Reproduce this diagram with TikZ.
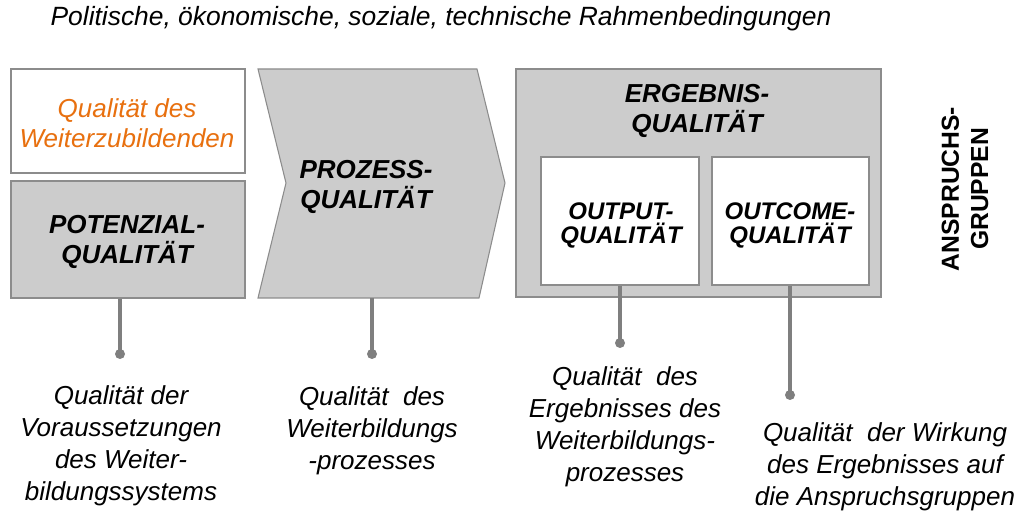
\documentclass[tikz,border=0pt]{standalone}
\usepackage{fontspec}
\setmainfont{Liberation Sans}
\definecolor{boxgrey}{HTML}{CCCCCC}
\definecolor{edgegrey}{HTML}{8C8C8C}
\definecolor{linegrey}{HTML}{7F7F7F}
\definecolor{qorange}{HTML}{E8700F}
\begin{document}
\begin{tikzpicture}[x=0.75pt,y=-0.75pt,
  lbl/.style={font=\fontsize{19.5}{24}\selectfont\itshape, align=center, inner sep=0pt},
  bigbold/.style={font=\fontsize{19.5}{22.5}\selectfont\bfseries\itshape, align=center, inner sep=0pt},
  smallbold/.style={font=\fontsize{18}{18}\selectfont\bfseries\itshape, align=center, inner sep=0pt},
  greybox/.style={draw=edgegrey, fill=boxgrey, line width=0.8pt, inner sep=0pt},
  whitebox/.style={draw=edgegrey, fill=white, line width=0.8pt, inner sep=0pt},
  conn/.style={draw=linegrey, line width=2.4pt},
  dot/.style={circle, fill=linegrey, inner sep=0pt, minimum size=7.5pt}]
\useasboundingbox (0,0) rectangle (1024,523);
% top heading
\node[lbl, font=\fontsize{19.8}{24}\selectfont\itshape] (top) at (441,19) {Politische, ökonomische, soziale, technische Rahmenbedingungen};
% left column
\node[whitebox, minimum width=234*0.75pt, minimum height=104*0.75pt] (wbox) at (128,121) {};
\node[lbl, text=qorange, font=\fontsize{19.5}{22.5}\selectfont\itshape] (wtxt) at (127,123) {Qualität des\\Weiterzubildenden};
\node[greybox, minimum width=234*0.75pt, minimum height=117*0.75pt] (pot) at (128,239.5) {};
\node[bigbold] (pottxt) at (127,242) {POTENZIAL-\\QUALITÄT};
% chevron
\draw[greybox] (258,69) -- (477,69) -- (505,183) -- (479,298) -- (258,298) -- (286,183) -- cycle;
\node[bigbold] (proz) at (366,187) {PROZESS-\\QUALITÄT};
\coordinate (prozb) at (372,298);
% result box
\node[greybox, minimum width=365*0.75pt, minimum height=228*0.75pt] (erg) at (698.5,183) {};
\node[bigbold] (ergtxt) at (697,111) {ERGEBNIS-\\QUALITÄT};
\node[whitebox, minimum width=158*0.75pt, minimum height=128*0.75pt] (out) at (620,221) {};
\node[smallbold] (outtxt) at (621,225) {OUTPUT-\\QUALITÄT};
\node[whitebox, minimum width=157*0.75pt, minimum height=128*0.75pt] (outc) at (790.5,221) {};
\node[smallbold] (outctxt) at (790,225) {OUTCOME-\\QUALITÄT};
% Anspruchsgruppen
\node[font=\fontsize{18.5}{22}\selectfont\bfseries, align=center, inner sep=0pt, rotate=90] (ans) at (965,189) {ANSPRUCHS-\\GRUPPEN};
% dots and connectors
\node[dot] (d1) at (120,354) {};
\node[dot] (d2) at (372,354) {};
\node[dot] (d3) at (620,343) {};
\node[dot] (d4) at (790,395) {};
\draw[conn] (d1 |- pot.south) -- (d1.center);
\draw[conn] (prozb) -- (d2.center);
\draw[conn] (d3 |- out.south) -- (d3.center);
\draw[conn] (d4 |- outc.south) -- (d4.center);
% bottom labels
\node[lbl] (l1) at (121,446) {Qualität der\\Voraussetzungen\\des Weiter-\\bildungssystems};
\node[lbl] (l2) at (372,431) {Qualität\ \ des\\Weiterbildungs\\-prozesses};
\node[lbl] (l3) at (625,427) {Qualität\ \ des\\Ergebnisses des\\Weiterbildungs-\\prozesses};
\node[lbl] (l4) at (885,467) {Qualität\ \ der Wirkung\\des Ergebnisses auf\\die Anspruchsgruppen};
\end{tikzpicture}
\end{document}
